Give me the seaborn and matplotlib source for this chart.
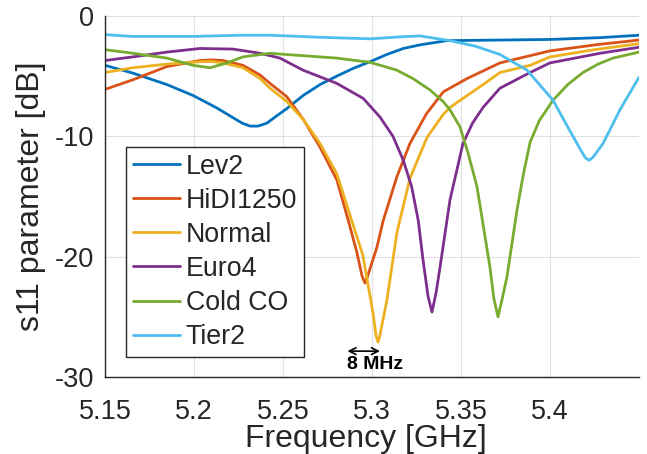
import matplotlib
matplotlib.use("Agg")
import matplotlib.pyplot as plt
import seaborn as sns
import pandas as pd

# ---- data ----
series_names = ["Lev2", "HiDI1250", "Normal", "Euro4", "Cold CO", "Tier2"]
colors = ["#0072BD", "#D95319", "#EDB120", "#7E2F8E", "#77AC30", "#4DBEEE"]

lev2_f = [5.15, 5.1657, 5.1848, 5.1994, 5.2129, 5.2219, 5.2270, 5.2315, 5.2360, 5.2410, 5.2460,
          5.2521, 5.2614, 5.2708, 5.2802, 5.2895, 5.2989, 5.3083, 5.3176, 5.3270, 5.3420,
          5.3719, 5.40, 5.4281, 5.45]
lev2_db = [-4.1, -4.75, -5.7, -6.6, -7.65, -8.45, -8.9, -9.15, -9.15, -8.9, -8.35,
           -7.7, -6.6, -5.7, -5.0, -4.35, -3.8, -3.2, -2.7, -2.4, -2.05,
           -2.0, -1.95, -1.8, -1.6]

hidi_f = [5.15, 5.1657, 5.1848, 5.2034, 5.2100, 5.2163, 5.2275, 5.2371, 5.2427, 5.2521, 5.2614,
          5.2708, 5.2802, 5.2867, 5.2916, 5.2944, 5.2961, 5.2978, 5.3028, 5.3063, 5.3139,
          5.3213, 5.3307, 5.3401, 5.3534, 5.3719, 5.40, 5.4281, 5.45]
hidi_db = [-6.1, -5.3, -4.2, -3.7, -3.65, -3.7, -4.1, -4.9, -5.6, -6.7, -8.6,
           -10.9, -13.6, -17.0, -19.7, -21.6, -22.2, -21.5, -19.2, -17.0, -13.4,
           -10.6, -8.1, -6.3, -5.2, -3.9, -2.9, -2.35, -2.0]

normal_f = [5.15, 5.1657, 5.1848, 5.2034, 5.2100, 5.2163, 5.2275, 5.2371, 5.2427, 5.2521, 5.2614,
            5.2708, 5.2802, 5.2886, 5.2949, 5.3006, 5.3023, 5.3034, 5.3045, 5.3084, 5.3140,
            5.3213, 5.3309, 5.3399, 5.3438, 5.3624, 5.3719, 5.3888, 5.40, 5.425, 5.45]
normal_db = [-4.7, -4.3, -4.0, -3.8, -3.78, -3.9, -4.3, -5.2, -6.0, -7.1, -8.6,
             -10.6, -13.1, -17.0, -19.9, -24.7, -26.6, -27.1, -26.5, -23.6, -18.0,
             -13.5, -10.1, -8.2, -7.6, -5.7, -4.7, -4.1, -3.4, -2.8, -2.3]

euro4_f = [5.15, 5.1657, 5.1848, 5.2034, 5.2219, 5.2371, 5.2483, 5.2612, 5.2802, 5.2951, 5.3045,
           5.3118, 5.3176, 5.3223, 5.3260, 5.3287, 5.3315, 5.3337, 5.3360, 5.3382, 5.3438,
           5.3511, 5.3565, 5.3624, 5.3719, 5.3888, 5.40, 5.4281, 5.45]
euro4_db = [-3.7, -3.4, -3.0, -2.7, -2.75, -3.1, -3.5, -4.5, -5.6, -6.85, -8.4,
            -10.0, -12.0, -14.2, -17.0, -20.3, -23.3, -24.6, -23.0, -20.9, -15.3,
            -10.6, -8.9, -7.6, -6.0, -4.7, -3.9, -3.1, -2.6]

cold_f = [5.15, 5.1657, 5.1848, 5.1994, 5.2090, 5.2185, 5.2275, 5.2427, 5.2612, 5.2802, 5.2989,
          5.3139, 5.3230, 5.3326, 5.3399, 5.3438, 5.3494, 5.3540, 5.3590, 5.3663, 5.3685,
          5.3708, 5.3730, 5.3758, 5.3815, 5.3850, 5.3888, 5.3940, 5.4017, 5.4100, 5.4185,
          5.4270, 5.4354, 5.45]
cold_db = [-2.8, -3.1, -3.5, -4.1, -4.3, -3.9, -3.4, -3.1, -3.3, -3.5, -3.85,
           -4.5, -5.2, -6.15, -7.1, -7.8, -9.2, -11.4, -14.2, -20.9, -23.5,
           -25.0, -23.6, -21.7, -16.1, -13.2, -10.5, -8.7, -7.0, -5.7, -4.7,
           -4.0, -3.5, -3.0]

tier2_f = [5.15, 5.1657, 5.1994, 5.2258, 5.2427, 5.2708, 5.2989, 5.3174, 5.3270, 5.3438, 5.3579,
           5.3719, 5.3871, 5.4017, 5.4084, 5.4152, 5.4197, 5.4219, 5.4241, 5.4298, 5.4393, 5.45]
tier2_db = [-1.55, -1.7, -1.7, -1.6, -1.6, -1.77, -1.9, -1.72, -1.66, -2.05, -2.5,
            -3.2, -4.5, -7.0, -8.8, -10.6, -11.75, -12.0, -11.75, -10.6, -7.8, -5.1]

x_ticks = [5.15, 5.2, 5.25, 5.3, 5.35, 5.4]
x_tick_labels = ["5.15", "5.2", "5.25", "5.3", "5.35", "5.4"]
y_ticks = [0, -10, -20, -30]
y_tick_labels = ["0", "-10", "-20", "-30"]

# "8 MHz" annotation
arrow_f = [5.2862, 5.3045]
arrow_db = -27.85
annot_f = 5.3017
annot_db = -29.0
annot_text = "8 MHz"

# ---- build table ----
all_f = [lev2_f, hidi_f, normal_f, euro4_f, cold_f, tier2_f]
all_db = [lev2_db, hidi_db, normal_db, euro4_db, cold_db, tier2_db]
frames = []
for name, f, d in zip(series_names, all_f, all_db):
    frames.append(pd.DataFrame({"Frequency": f, "dB": d, "series": name}))
df = pd.concat(frames, ignore_index=True)

sns.set_theme(style="white")
plt.rcParams["font.family"] = ["Liberation Sans", "DejaVu Sans"]
plt.rcParams["axes.unicode_minus"] = False

fig = plt.figure(figsize=(6.47, 4.54), dpi=100)
ax = fig.add_axes([0.1623, 0.1696, 0.8253, 0.7952])

sns.lineplot(data=df, x="Frequency", y="dB", hue="series", hue_order=series_names,
             palette=colors, sort=False, estimator=None,
             linewidth=2.0, ax=ax, legend=True)
for ln in ax.get_lines():
    ln.set_solid_joinstyle("round")
    ln.set_solid_capstyle("round")

ax.set_xlim(5.15, 5.45)
ax.set_ylim(-30, 0)
ax.set_xticks(x_ticks)
ax.set_xticklabels(x_tick_labels)
ax.set_yticks(y_ticks)
ax.set_yticklabels(y_tick_labels)

ax.grid(True, color="#e0e0e0", linewidth=0.8)
for s in ["top", "right"]:
    ax.spines[s].set_visible(False)
for s in ["left", "bottom"]:
    ax.spines[s].set_color("#262626")
    ax.spines[s].set_linewidth(1.0)

ax.tick_params(axis="both", direction="in", length=5, width=1, color="#262626",
               labelcolor="#262626", labelsize=19.5)
ax.tick_params(axis="x", pad=16)
ax.tick_params(axis="y", pad=8)

ax.set_xlabel("Frequency [GHz]", fontsize=23, color="#262626", labelpad=-1)
ax.xaxis.label.set_x(0.488)
ax.set_ylabel("s11 parameter [dB]", fontsize=23, color="#262626", labelpad=6)

handles, labels = ax.get_legend_handles_labels()
leg = ax.legend(handles, labels, loc="upper left", bbox_to_anchor=(0.0393, 0.637),
                borderaxespad=0, fontsize=19.3, frameon=True, fancybox=False,
                edgecolor="#262626", framealpha=1, handlelength=1.78,
                handletextpad=0.2, borderpad=0.25, labelspacing=0.3)
leg.get_frame().set_linewidth(1.0)
for line in leg.get_lines():
    line.set_linewidth(2.0)

ax.annotate("", xy=(arrow_f[0], arrow_db), xytext=(arrow_f[1], arrow_db),
            arrowprops=dict(arrowstyle="<->", color="black", lw=1.2, shrinkA=0, shrinkB=0))
ax.text(annot_f, annot_db, annot_text, ha="center", va="center",
        fontsize=14, fontweight="bold", color="black")

fig.savefig("out.png", dpi=100)
